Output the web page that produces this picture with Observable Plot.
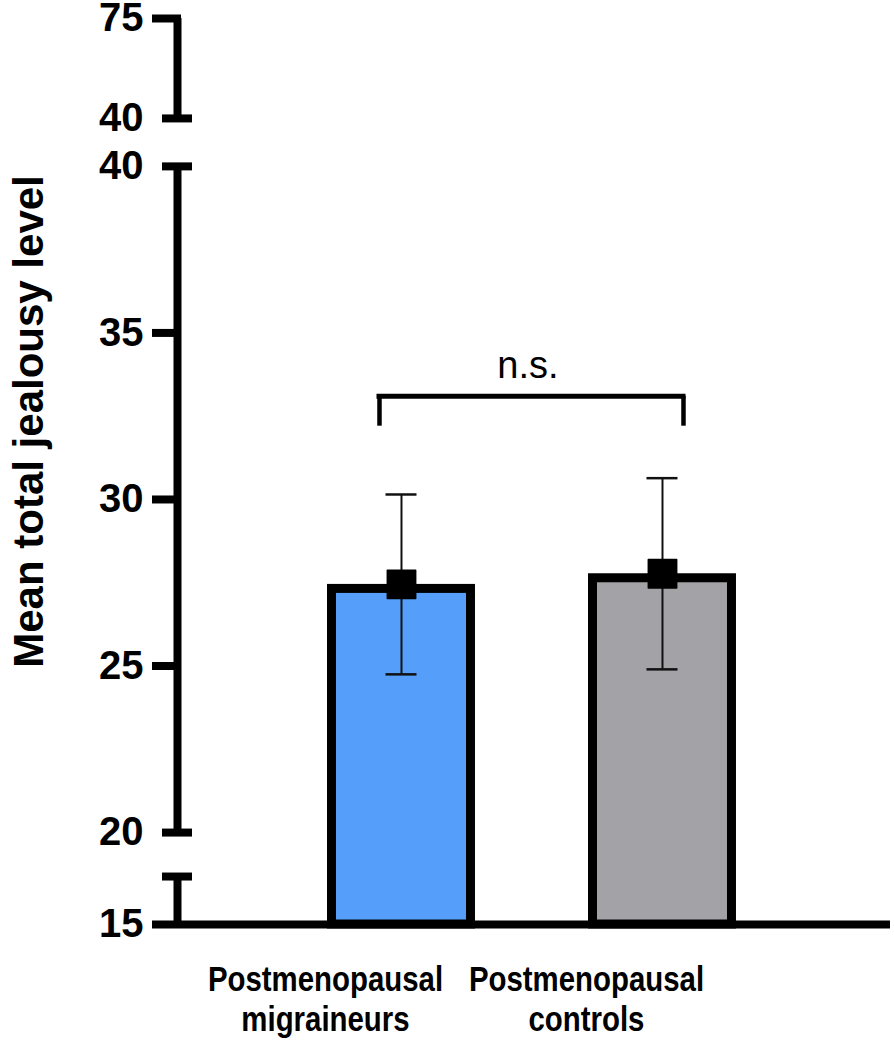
<!DOCTYPE html>
<html>
<head>
<meta charset="utf-8">
<script src="https://cdn.jsdelivr.net/npm/d3@7"></script>
<script src="https://cdn.jsdelivr.net/npm/@observablehq/plot@0.6"></script>
<style>
  html, body { margin: 0; padding: 0; background: #fff; }
  svg { display: block; }
</style>
</head>
<body>
<div id="chart"></div>
<script>
// ---- data ----
const categories = ["Postmenopausal\nmigraineurs", "Postmenopausal\ncontrols"];
const means = [27.45, 27.77];
const sds = [2.70, 2.87];
const barColors = ["#559ffb", "#a3a2a7"];
const yTitle = "Mean total jealousy level";

// broken y axis: three segments (bottom stub, main, top)
const segLo = [15, 20, 40];
const segHi = [16.44, 40, 75];
const segStart = [0, 2.76, 24.2];      // virtual start of each segment
const segRate = [1, 1, 3 / 35];        // virtual units per data unit

const tickValues = [15, 20, 25, 30, 35, 40, 40, 75];
const tickSegments = [0, 1, 1, 1, 1, 1, 2, 2];
const minorTicks = [{v: 25, seg: 1}, {v: 30, seg: 1}, {v: 35, seg: 1}, {v: 75, seg: 2}];
const breakCaps = [{v: 16.44, seg: 0}, {v: 20, seg: 1}, {v: 40, seg: 1}, {v: 40, seg: 2}];

const comparison = {from: 0, to: 1, label: "n.s.", level: 33.1, drop: 32.2};

// ---- helpers ----
function yv(value, seg) { return segStart[seg] + (value - segLo[seg]) * segRate[seg]; }
function ybar(value) {
  const seg = value <= segHi[0] ? 0 : value <= segHi[1] ? 1 : 2;
  return yv(value, seg);
}

const data = categories.map((c, i) => ({category: c, pos: i + 1, mean: means[i], sd: sds[i]}));
const AX = 0.1418;       // x position of the y axis (in category units)
const XMAX = 2.8736;
const half = 0.2835;     // half bar width in category units
const font = "'Liberation Sans', Arial, Helvetica, sans-serif";
const AXW = 8;

const chart = Plot.plot({
  width: 894,
  height: 1047,
  marginLeft: 177,
  marginRight: 4,
  marginTop: 18,
  marginBottom: 123,
  x: {type: "linear", domain: [AX, XMAX], axis: null},
  y: {type: "linear", domain: [0, yv(75, 2)], axis: null},
  color: {domain: categories, range: barColors},
  style: {fontFamily: font, background: "white", color: "black", overflow: "visible"},
  marks: [
    // bars
    Plot.rect(data, {
      x1: d => d.pos - half, x2: d => d.pos + half,
      y1: () => yv(15, 0), y2: d => ybar(d.mean),
      fill: "category", stroke: "black", strokeWidth: 9,
      insetTop: 4.5, insetLeft: 4.5, insetRight: 4.5
    }),
    // error bars
    Plot.ruleX(data, {
      x: "pos", y1: d => ybar(d.mean - d.sd), y2: d => ybar(d.mean + d.sd),
      stroke: "#111", strokeWidth: 2
    }),
    Plot.ruleY(data, {
      x1: "pos", x2: "pos", y: d => ybar(d.mean + d.sd),
      insetLeft: -15.5, insetRight: -15.5, stroke: "#111", strokeWidth: 2.5
    }),
    Plot.ruleY(data, {
      x1: "pos", x2: "pos", y: d => ybar(d.mean - d.sd),
      insetLeft: -15.5, insetRight: -15.5, stroke: "#111", strokeWidth: 2.5
    }),
    // mean markers
    Plot.dot(data, {
      x: "pos", y: d => ybar(d.mean), symbol: "square", r: 16,
      fill: "black", stroke: "black", strokeWidth: 1.5, strokeLinejoin: "round"
    }),
    // axis segments
    Plot.ruleX([0, 1, 2], {
      x: () => AX, y1: s => yv(segLo[s], s), y2: s => yv(segHi[s], s),
      stroke: "black", strokeWidth: AXW
    }),
    // minor ticks
    Plot.ruleY(minorTicks, {
      x1: () => AX, x2: () => AX, y: d => yv(d.v, d.seg),
      insetLeft: -21, stroke: "black", strokeWidth: AXW, strokeLinecap: "square"
    }),
    // break caps
    Plot.ruleY(breakCaps, {
      x1: () => AX, x2: () => AX, y: d => yv(d.v, d.seg),
      insetLeft: -11, insetRight: -11, stroke: "black", strokeWidth: AXW, strokeLinecap: "square"
    }),
    // x axis baseline
    Plot.ruleY([0], {
      x1: () => AX, x2: () => XMAX, y: () => yv(15, 0),
      insetLeft: -21, insetRight: 4, stroke: "black", strokeWidth: AXW, strokeLinecap: "square"
    }),
    // tick labels
    Plot.text(tickValues.map((v, i) => ({v, seg: tickSegments[i]})), {
      x: () => AX, y: d => yv(d.v, d.seg), text: d => String(d.v),
      textAnchor: "end", dx: -34, fontSize: 40, fontWeight: "bold", fill: "black"
    }),
    // y title
    Plot.text([yTitle], {
      text: d => d, frameAnchor: "left", textAnchor: "middle", rotate: -90, dx: -148, dy: -50,
      fontSize: 42, fontWeight: "bold", fill: "black"
    }),
    // category labels
    Plot.text(data, {
      x: "pos", text: "category", frameAnchor: "bottom", lineAnchor: "top",
      dy: 38, dx: -76, fontSize: 35, fontWeight: "bold", lineHeight: 1.14,
      fill: "black", ariaLabel: "category labels"
    }),
    // significance bracket
    Plot.ruleY([comparison], {
      x1: d => d.from + 1, x2: d => d.to + 1, y: d => yv(d.level, 1),
      insetLeft: -22, insetRight: -21, stroke: "black", strokeWidth: 5, strokeLinecap: "square"
    }),
    Plot.ruleX([comparison], {
      x: d => d.from + 1, y1: d => yv(d.drop, 1), y2: d => yv(d.level, 1),
      dx: -22, stroke: "black", strokeWidth: 4.5
    }),
    Plot.ruleX([comparison], {
      x: d => d.to + 1, y1: d => yv(d.drop, 1), y2: d => yv(d.level, 1),
      dx: 21, stroke: "black", strokeWidth: 4.5
    }),
    Plot.text([comparison], {
      x: d => (d.from + d.to) / 2 + 1, y: d => yv(d.level, 1), text: "label",
      dy: -30, dx: -4, fontSize: 38, fill: "black"
    })
  ]
});

document.getElementById("chart").appendChild(chart);

// condense the category labels horizontally (the reference uses a narrow bold face)
Array.from(chart.querySelectorAll("text"))
  .filter(t => t.textContent.includes("Postmenopausal"))
  .forEach(t => {
    const tr = t.getAttribute("transform");
    if (tr) {
      t.setAttribute("transform", tr + " scale(0.84,1)");
    } else {
      t.style.transformBox = "fill-box";
      t.style.transformOrigin = "center";
      t.style.transform = "scaleX(0.84)";
    }
  });
</script>
</body>
</html>
